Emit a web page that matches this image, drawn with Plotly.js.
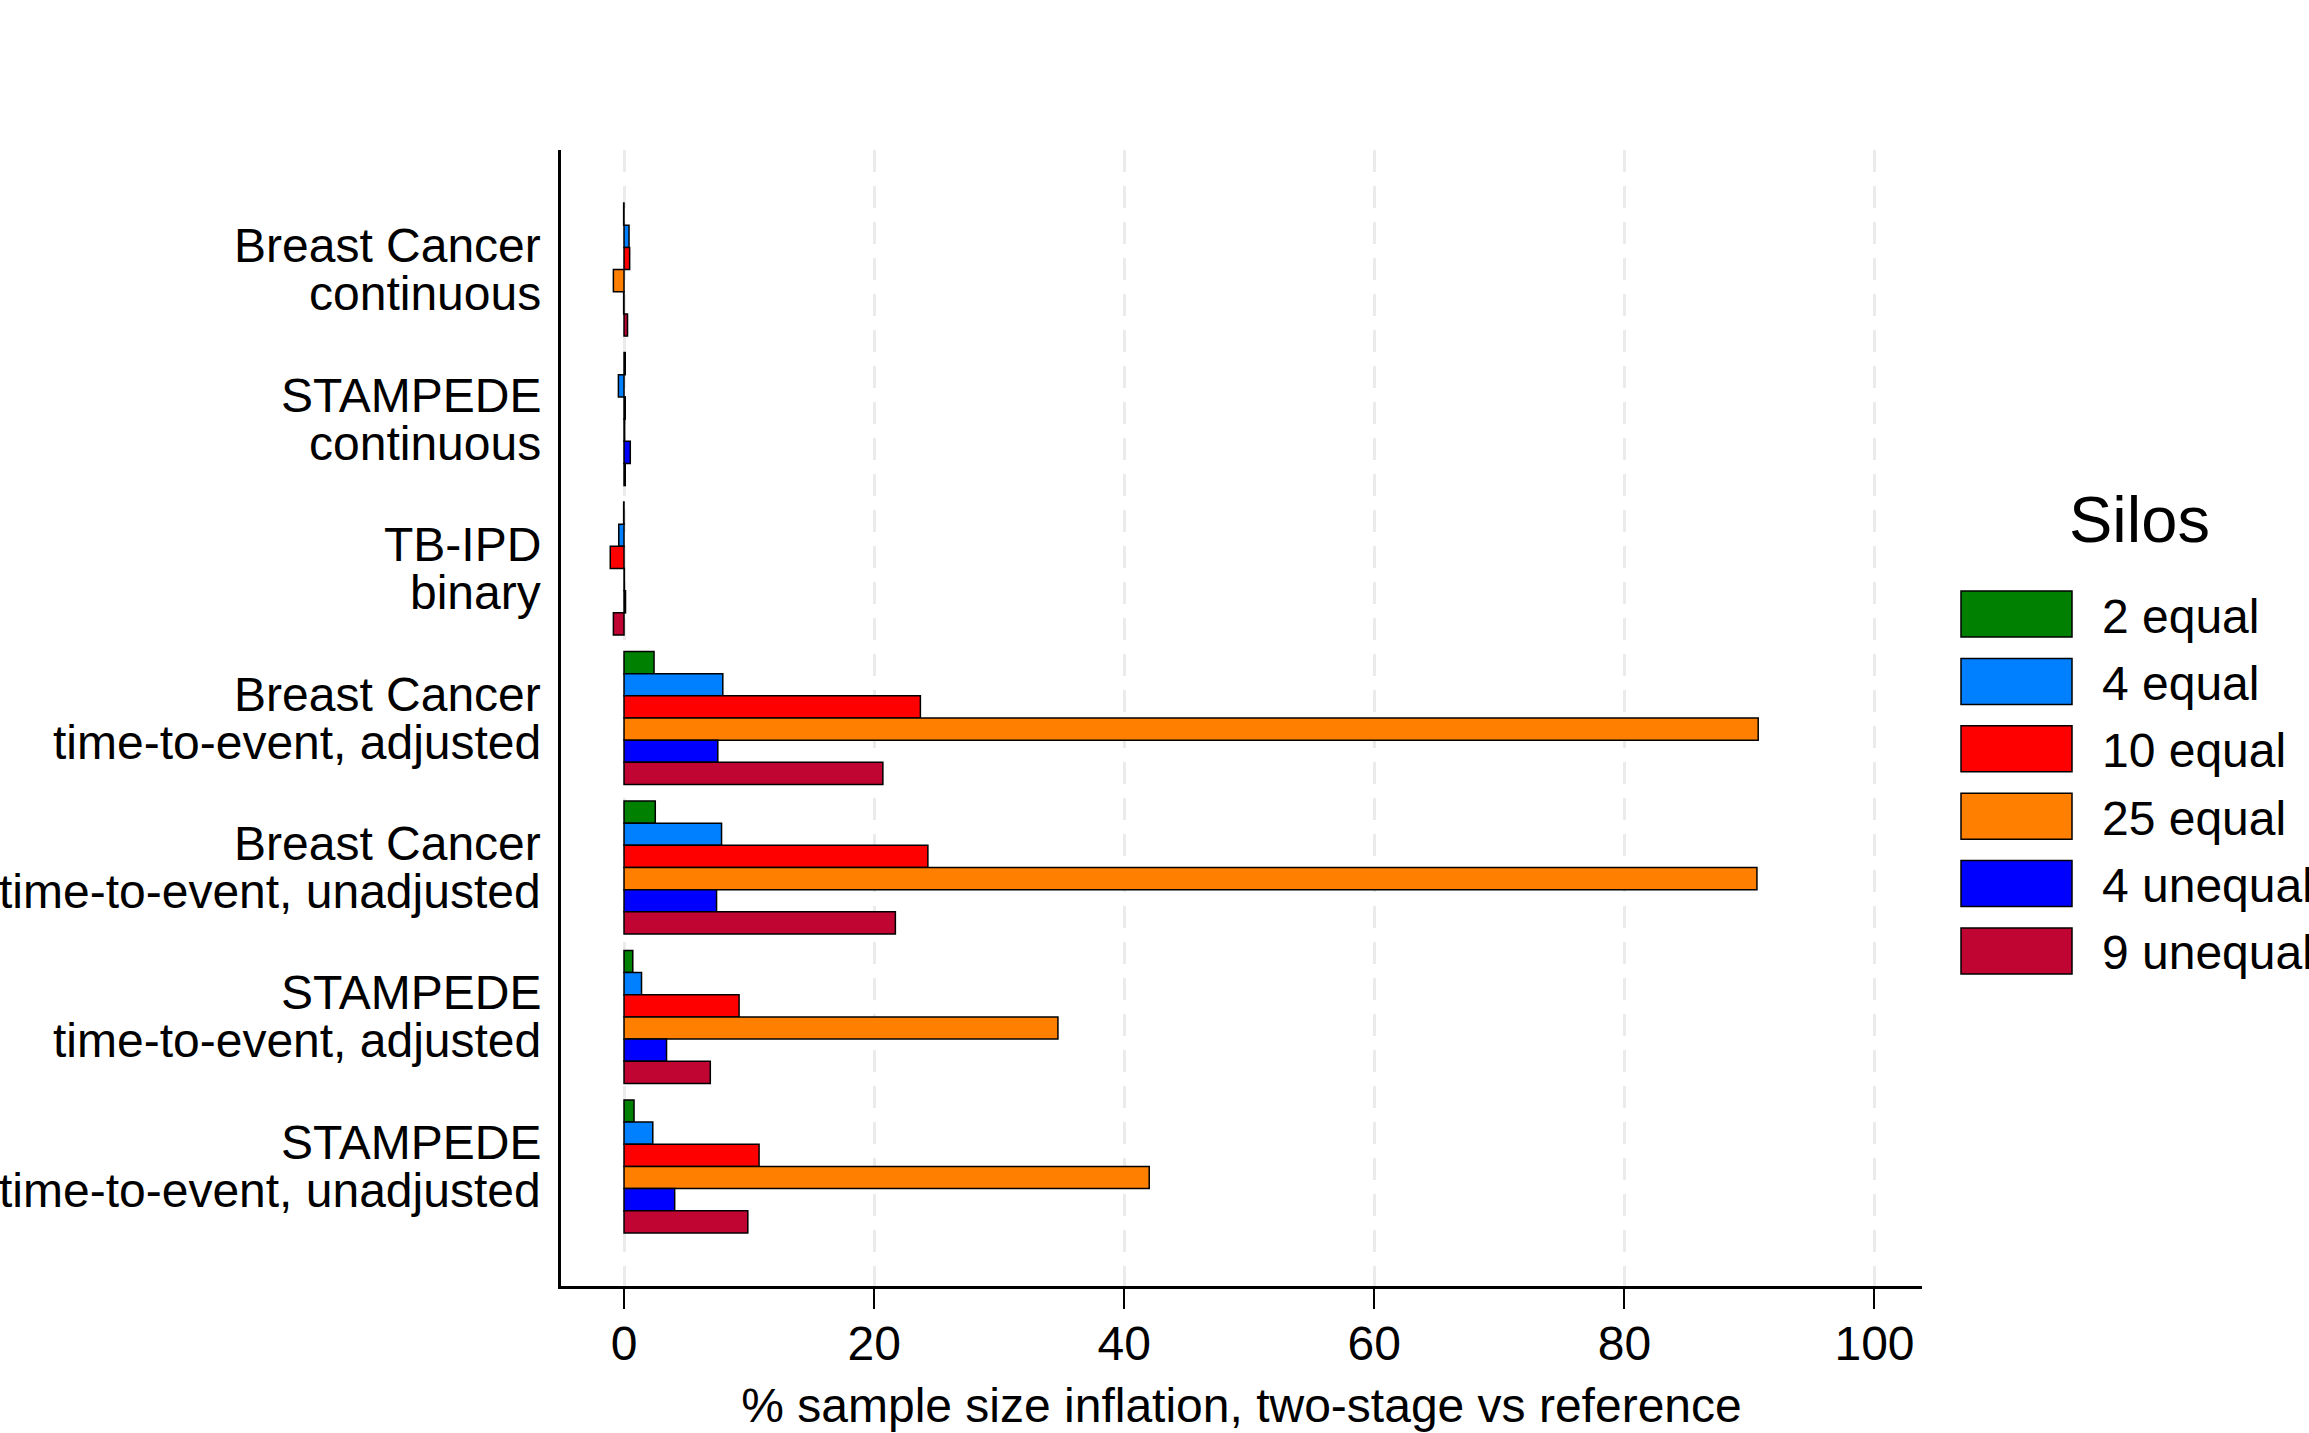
<!DOCTYPE html>
<html>
<head>
<meta charset="utf-8">
<script src="https://cdn.plot.ly/plotly-3.0.1.min.js"></script>
<style>
  html, body { margin: 0; padding: 0; background: #fff; }
  #chart { width: 2309px; height: 1433px; }
</style>
</head>
<body>
<div id="chart"></div>
<script>
// Categories, top to bottom (two text lines each)
const catKeys = ["bc_cont", "st_cont", "tb_bin", "bc_tte_adj", "bc_tte_unadj", "st_tte_adj", "st_tte_unadj"];
const labelLine1 = ["Breast Cancer", "STAMPEDE", "TB-IPD", "Breast Cancer", "Breast Cancer", "STAMPEDE", "STAMPEDE"];
const labelLine2 = ["continuous", "continuous", "binary", "time-to-event, adjusted", "time-to-event, unadjusted",
                    "time-to-event, adjusted", "time-to-event, unadjusted"];

// % sample size inflation, one array per silo setting
const silos2equal   = [-0.03, 0.1, -0.03, 2.4, 2.5, 0.7, 0.8];
const silos4equal   = [0.4, -0.45, -0.42, 7.9, 7.8, 1.4, 2.3];
const silos10equal  = [0.45, 0.1, -1.1, 23.7, 24.3, 9.2, 10.8];
const silos25equal  = [-0.85, 0.05, 0.03, 90.7, 90.6, 34.7, 42.0];
const silos4unequal = [-0.03, 0.5, 0.12, 7.5, 7.4, 3.4, 4.05];
const silos9unequal = [0.28, 0.1, -0.85, 20.7, 21.7, 6.9, 9.9];

const seriesNames  = ["2 equal", "4 equal", "10 equal", "25 equal", "4 unequal", "9 unequal"];
const seriesValues = [silos2equal, silos4equal, silos10equal, silos25equal, silos4unequal, silos9unequal];
const seriesColors = ["#008000", "#0080ff", "#ff0000", "#ff8000", "#0000ff", "#c00532"];

const xTicks = [0, 20, 40, 60, 80, 100];

const FONT = "Liberation Sans, Arial, sans-serif";
const FS = 48;
const W = 2309, H = 1433;
const margin = { l: 561, r: 387, t: 150, b: 147 };
const plotW = W - margin.l - margin.r;
const plotH = H - margin.t - margin.b;
// pixel -> paper helpers for the hand-made legend
const px2x = px => (px - margin.l) / plotW;
const py2y = py => (H - margin.b - py) / plotH;

const traces = seriesNames.map((name, i) => ({
    type: "bar",
    orientation: "h",
    name: name,
    x: seriesValues[i],
    y: catKeys,
    marker: { color: seriesColors[i], line: { color: "#000", width: 1.5 } },
    hoverinfo: "x+name"
}));

const annotations = [];
const shapes = [];

// two-line category labels, tight line spacing
catKeys.forEach((k, i) => {
    [labelLine1[i], labelLine2[i]].forEach((txt, j) => {
        annotations.push({
            text: txt, xref: "paper", yref: "y", x: 0, y: k,
            xanchor: "right", yanchor: "middle", xshift: -18, yshift: j === 0 ? 24 : -24,
            showarrow: false, font: { family: FONT, size: FS, color: "#000" }
        });
    });
});

// legend
annotations.push({
    text: "Silos", xref: "paper", yref: "paper", x: px2x(2139), y: py2y(519),
    xanchor: "center", yanchor: "middle", showarrow: false,
    font: { family: FONT, size: 65, color: "#000" }
});
seriesNames.forEach((name, i) => {
    const cy = 614 + 67.4 * i;
    shapes.push({
        type: "rect", xref: "paper", yref: "paper",
        x0: px2x(1961), x1: px2x(2072), y0: py2y(cy - 23), y1: py2y(cy + 23),
        fillcolor: seriesColors[i], line: { color: "#000", width: 1.5 }
    });
    annotations.push({
        text: name, xref: "paper", yref: "paper", x: px2x(2100), y: py2y(cy + 2),
        xanchor: "left", yanchor: "middle", showarrow: false,
        font: { family: FONT, size: FS, color: "#000" }
    });
});

const layout = {
    width: W,
    height: H,
    margin: margin,
    paper_bgcolor: "#fff",
    plot_bgcolor: "#fff",
    showlegend: false,
    barmode: "group",
    bargap: 0.11,
    bargroupgap: 0,
    font: { family: FONT, size: FS, color: "#000" },
    xaxis: {
        range: [-5.04, 103.8],
        tickvals: xTicks,
        ticktext: xTicks.map(String),
        ticks: "outside",
        ticklen: 20,
        tickwidth: 2,
        tickcolor: "#000",
        ticklabelstandoff: -6,
        tickfont: { family: FONT, size: FS, color: "#000" },
        showline: true,
        linecolor: "#000",
        linewidth: 2.5,
        showgrid: true,
        gridcolor: "#ebebeb",
        gridwidth: 2.5,
        griddash: "22px,14px",
        zeroline: false,
        automargin: false,
        title: {
            text: "% sample size inflation, two-stage vs reference",
            font: { family: FONT, size: FS, color: "#000" },
            standoff: 20
        }
    },
    yaxis: {
        type: "category",
        categoryorder: "array",
        categoryarray: catKeys,
        range: [6.8, -0.8],
        showticklabels: false,
        ticks: "",
        showline: true,
        linecolor: "#000",
        linewidth: 2.5,
        showgrid: false,
        zeroline: false,
        automargin: false
    },
    annotations: annotations,
    shapes: shapes
};

Plotly.newPlot("chart", traces, layout, { displayModeBar: false, responsive: false });
</script>
</body>
</html>
